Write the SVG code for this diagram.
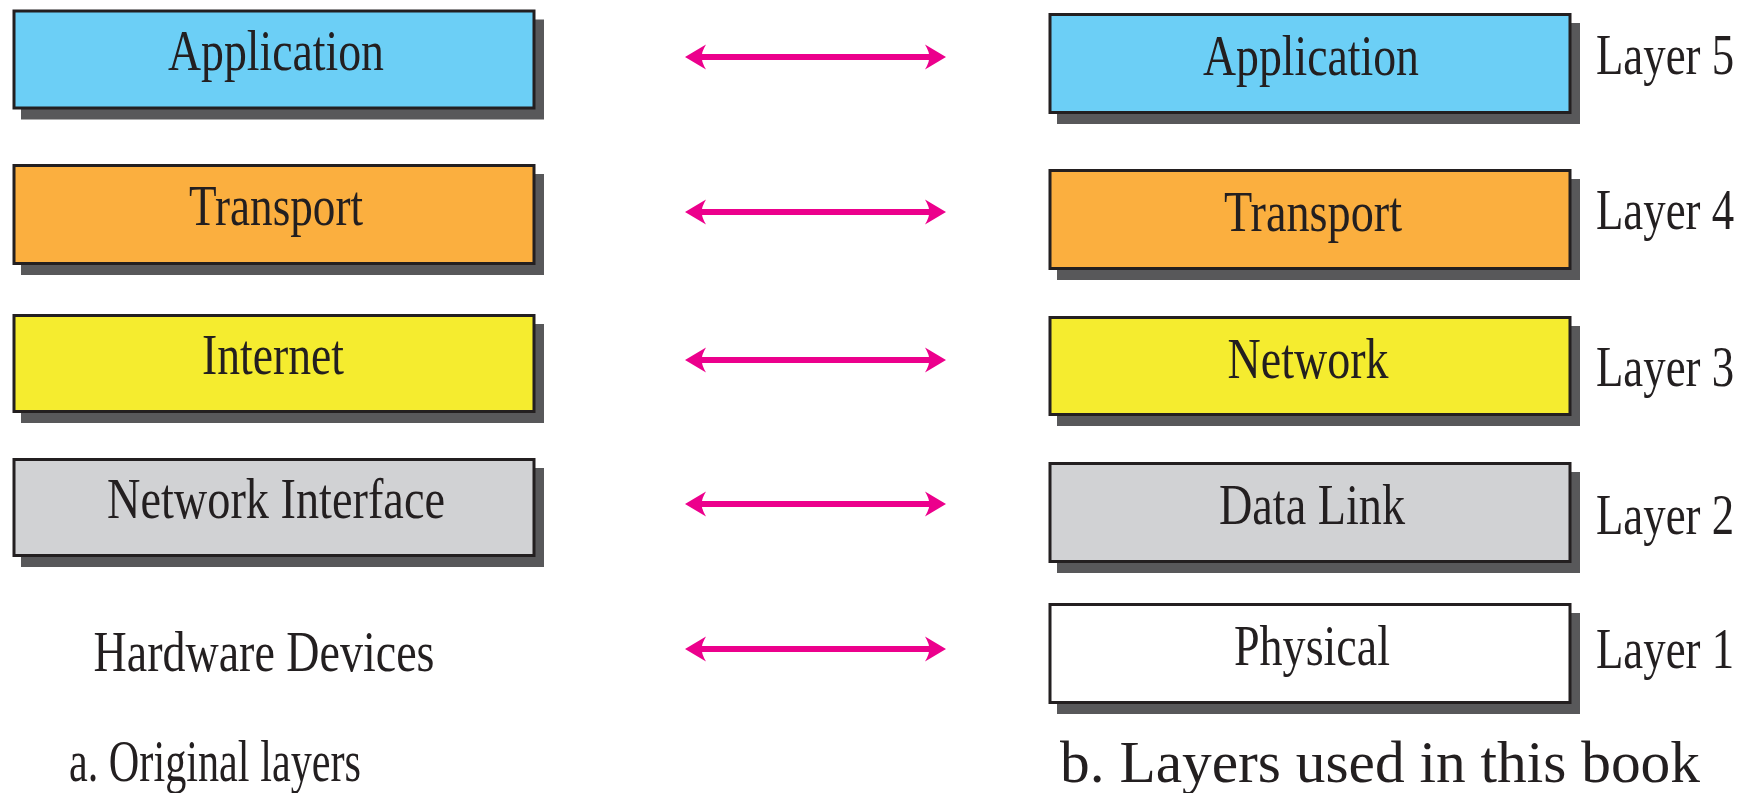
<svg xmlns="http://www.w3.org/2000/svg" width="1746" height="793" viewBox="0 0 1746 793">
  <style>
    .box { stroke: #231F20; stroke-width: 3; }
    .shadow { fill: #58585A; }
    .app { fill: #6CCFF6; }
    .trans { fill: #FBAF3F; }
    .net { fill: #F5EC2F; }
    .link { fill: #D1D2D4; }
    .phys { fill: #FFFFFF; }
    .lbl { font-family: "Liberation Serif", "Times New Roman", serif; font-size: 56px; fill: #231F20; }
    .cap { font-family: "Liberation Serif", "Times New Roman", serif; font-size: 60px; fill: #231F20; }
    .arrow { stroke: #EC008C; stroke-width: 6; fill: none; marker-start: url(#head); marker-end: url(#head); }
  </style>
  <defs>
    <marker id="head" markerUnits="userSpaceOnUse" markerWidth="24" markerHeight="28" viewBox="0 -14 24 28" refX="14" refY="0" orient="auto-start-reverse">
      <path d="M22,0 L1,-12.5 Q6,-4 5,0 Q6,4 1,12.5 Z" fill="#EC008C"/>
    </marker>
  </defs>

  <rect width="1746" height="793" fill="#FFFFFF"/>

  <!-- a. original layers -->
  <g id="orig-application">
    <rect class="shadow" x="21" y="19.5" width="523" height="100"/>
    <rect class="box app" x="14" y="11" width="520" height="97"/>
    <text class="lbl" x="276" y="70" text-anchor="middle" textLength="216" lengthAdjust="spacingAndGlyphs">Application</text>
  </g>
  <g id="orig-transport">
    <rect class="shadow" x="21" y="174" width="523" height="101"/>
    <rect class="box trans" x="14" y="165.5" width="520" height="98"/>
    <text class="lbl" x="276" y="225" text-anchor="middle" textLength="174" lengthAdjust="spacingAndGlyphs">Transport</text>
  </g>
  <g id="orig-internet">
    <rect class="shadow" x="21" y="324" width="523" height="99"/>
    <rect class="box net" x="14" y="315.5" width="520" height="96"/>
    <text class="lbl" x="273" y="374" text-anchor="middle" textLength="142" lengthAdjust="spacingAndGlyphs">Internet</text>
  </g>
  <g id="orig-netif">
    <rect class="shadow" x="21" y="468" width="523" height="99"/>
    <rect class="box link" x="14" y="459.5" width="520" height="96"/>
    <text class="lbl" x="276" y="518" text-anchor="middle" textLength="338" lengthAdjust="spacingAndGlyphs">Network Interface</text>
  </g>
  <g id="orig-hardware">
    <text class="lbl" x="264" y="671" text-anchor="middle" textLength="341" lengthAdjust="spacingAndGlyphs">Hardware Devices</text>
  </g>
  <text id="caption-a" class="cap" x="69" y="781" textLength="292" lengthAdjust="spacingAndGlyphs">a. Original layers</text>

  <!-- b. layers used in this book; layer numbers are condensed with a horizontal scale -->
  <g id="book-application">
    <rect class="shadow" x="1057" y="23" width="523" height="101"/>
    <rect class="box app" x="1050" y="14.5" width="520" height="98"/>
    <text class="lbl" x="1311" y="75" text-anchor="middle" textLength="216" lengthAdjust="spacingAndGlyphs">Application</text>
    <text class="lbl" transform="translate(1596 74) scale(0.8 1)">Layer 5</text>
  </g>
  <g id="book-transport">
    <rect class="shadow" x="1057" y="179" width="523" height="101"/>
    <rect class="box trans" x="1050" y="170.5" width="520" height="98"/>
    <text class="lbl" x="1313" y="231" text-anchor="middle" textLength="178" lengthAdjust="spacingAndGlyphs">Transport</text>
    <text class="lbl" transform="translate(1596 229) scale(0.8 1)">Layer 4</text>
  </g>
  <g id="book-network">
    <rect class="shadow" x="1057" y="326" width="523" height="100"/>
    <rect class="box net" x="1050" y="317.5" width="520" height="97"/>
    <text class="lbl" x="1308" y="378" text-anchor="middle" textLength="161" lengthAdjust="spacingAndGlyphs">Network</text>
    <text class="lbl" transform="translate(1596 386) scale(0.8 1)">Layer 3</text>
  </g>
  <g id="book-datalink">
    <rect class="shadow" x="1057" y="472" width="523" height="101"/>
    <rect class="box link" x="1050" y="463.5" width="520" height="98"/>
    <text class="lbl" x="1312" y="524" text-anchor="middle" textLength="186" lengthAdjust="spacingAndGlyphs">Data Link</text>
    <text class="lbl" transform="translate(1596 534) scale(0.8 1)">Layer 2</text>
  </g>
  <g id="book-physical">
    <rect class="shadow" x="1057" y="613" width="523" height="101"/>
    <rect class="box phys" x="1050" y="604.5" width="520" height="98"/>
    <text class="lbl" x="1312" y="665" text-anchor="middle" textLength="156" lengthAdjust="spacingAndGlyphs">Physical</text>
    <text class="lbl" transform="translate(1596 668) scale(0.8 1)">Layer 1</text>
  </g>
  <text id="caption-b" class="cap" x="1060" y="782" textLength="640" lengthAdjust="spacingAndGlyphs">b. Layers used in this book</text>

  <!-- two-way correspondences between the stacks -->
  <g id="connectors">
    <line class="arrow" x1="693" y1="57" x2="938" y2="57"/>
    <line class="arrow" x1="693" y1="212" x2="938" y2="212"/>
    <line class="arrow" x1="693" y1="360" x2="938" y2="360"/>
    <line class="arrow" x1="693" y1="504" x2="938" y2="504"/>
    <line class="arrow" x1="693" y1="649" x2="938" y2="649"/>
  </g>
</svg>
